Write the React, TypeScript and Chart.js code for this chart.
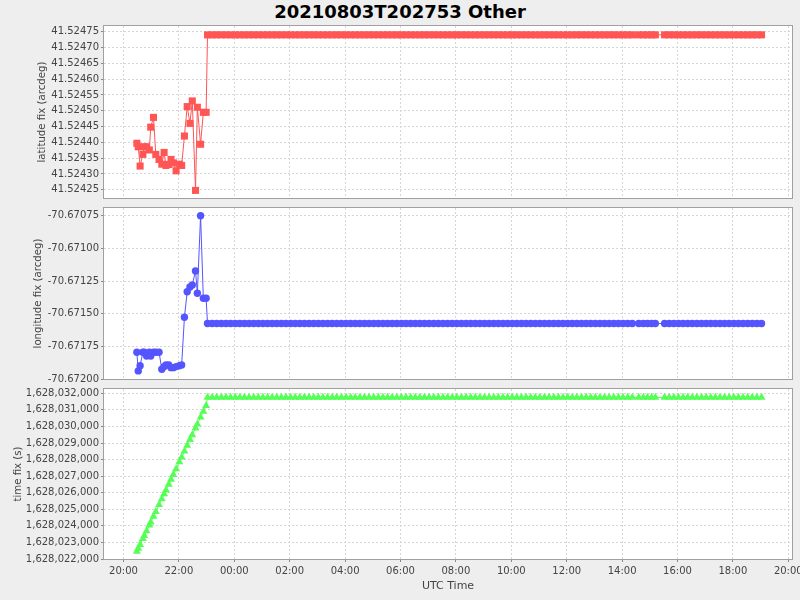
import { useEffect, useRef } from "react";
import { Chart, registerables } from "chart.js";

Chart.register(...registerables);

// ---- data (UTC record times) ----
const earlyTimes = [
  "20:29", "20:32", "20:36", "20:42", "20:45", "20:50", "20:56", "20:59", "21:05", "21:10",
  "21:17", "21:23", "21:28", "21:32", "21:38", "21:43", "21:48", "21:54", "22:01", "22:06",
  "22:12", "22:18", "22:24", "22:29", "22:36", "22:40", "22:47", "22:53", "22:59",
];
const lateTimes = [
  "23:02", "23:12", "23:22", "23:32", "23:42", "23:52",
  "00:02", "00:12", "00:22", "00:32", "00:42", "00:52",
  "01:02", "01:12", "01:22", "01:32", "01:42", "01:52",
  "02:02", "02:12", "02:22", "02:32", "02:42", "02:52",
  "03:02", "03:12", "03:22", "03:32", "03:42", "03:52",
  "04:02", "04:12", "04:22", "04:32", "04:42", "04:52",
  "05:02", "05:12", "05:22", "05:32", "05:42", "05:52",
  "06:02", "06:12", "06:22", "06:32", "06:42", "06:52",
  "07:02", "07:12", "07:22", "07:32", "07:42", "07:52",
  "08:02", "08:12", "08:22", "08:32", "08:42", "08:52",
  "09:02", "09:12", "09:22", "09:32", "09:42", "09:52",
  "10:02", "10:12", "10:22", "10:32", "10:42", "10:52",
  "11:02", "11:12", "11:22", "11:32", "11:42", "11:52",
  "12:02", "12:12", "12:22", "12:32", "12:42", "12:52",
  "13:02", "13:12", "13:22", "13:32", "13:42", "13:52",
  "14:02", "14:12", "14:22", "14:36", "14:46", "14:55",
  "15:04", "15:12", "15:32", "15:42", "15:52",
  "16:02", "16:12", "16:22", "16:32", "16:42", "16:52",
  "17:02", "17:12", "17:22", "17:32", "17:42", "17:52",
  "18:02", "18:12", "18:22", "18:32", "18:42", "18:52",
  "19:02",
];

const earlyLatitude = [
  41.524397, 41.524386, 41.524325, 41.524362, 41.524386, 41.524386, 41.524376, 41.524448, 41.524479, 41.524362,
  41.524346, 41.524331, 41.524368, 41.524327, 41.52433, 41.524346, 41.524335, 41.52431, 41.524331, 41.524327,
  41.52442, 41.524513, 41.52446, 41.524531, 41.524248, 41.524511, 41.524394, 41.524495, 41.524495,
];
const lateLatitude = [
  41.52474, 41.52474, 41.52474, 41.52474, 41.52474, 41.52474, 41.52474, 41.52474, 41.52474, 41.52474,
  41.52474, 41.52474, 41.52474, 41.52474, 41.52474, 41.52474, 41.52474, 41.52474, 41.52474, 41.52474,
  41.52474, 41.52474, 41.52474, 41.52474, 41.52474, 41.52474, 41.52474, 41.52474, 41.52474, 41.52474,
  41.52474, 41.52474, 41.52474, 41.52474, 41.52474, 41.52474, 41.52474, 41.52474, 41.52474, 41.52474,
  41.52474, 41.52474, 41.52474, 41.52474, 41.52474, 41.52474, 41.52474, 41.52474, 41.52474, 41.52474,
  41.52474, 41.52474, 41.52474, 41.52474, 41.52474, 41.52474, 41.52474, 41.52474, 41.52474, 41.52474,
  41.52474, 41.52474, 41.52474, 41.52474, 41.52474, 41.52474, 41.52474, 41.52474, 41.52474, 41.52474,
  41.52474, 41.52474, 41.52474, 41.52474, 41.52474, 41.52474, 41.52474, 41.52474, 41.52474, 41.52474,
  41.52474, 41.52474, 41.52474, 41.52474, 41.52474, 41.52474, 41.52474, 41.52474, 41.52474, 41.52474,
  41.52474, 41.52474, 41.52474, 41.52474, 41.52474, 41.52474, 41.52474, 41.52474, 41.52474, 41.52474,
  41.52474, 41.52474, 41.52474, 41.52474, 41.52474, 41.52474, 41.52474, 41.52474, 41.52474, 41.52474,
  41.52474, 41.52474, 41.52474, 41.52474, 41.52474, 41.52474, 41.52474, 41.52474, 41.52474, 41.52474,
];

const earlyLongitude = [
  -70.671795, -70.671938, -70.671898, -70.671795, -70.671795, -70.671824, -70.671795, -70.671824, -70.671795, -70.671795,
  -70.671795, -70.671925, -70.671905, -70.671892, -70.671892, -70.671913, -70.671913, -70.671905, -70.671898, -70.671892,
  -70.671527, -70.671332, -70.671296, -70.67128, -70.671173, -70.671344, -70.67075, -70.671382, -70.671382,
];
const lateLongitude = [
  -70.671575, -70.671575, -70.671575, -70.671575, -70.671575, -70.671575, -70.671575, -70.671575, -70.671575, -70.671575,
  -70.671575, -70.671575, -70.671575, -70.671575, -70.671575, -70.671575, -70.671575, -70.671575, -70.671575, -70.671575,
  -70.671575, -70.671575, -70.671575, -70.671575, -70.671575, -70.671575, -70.671575, -70.671575, -70.671575, -70.671575,
  -70.671575, -70.671575, -70.671575, -70.671575, -70.671575, -70.671575, -70.671575, -70.671575, -70.671575, -70.671575,
  -70.671575, -70.671575, -70.671575, -70.671575, -70.671575, -70.671575, -70.671575, -70.671575, -70.671575, -70.671575,
  -70.671575, -70.671575, -70.671575, -70.671575, -70.671575, -70.671575, -70.671575, -70.671575, -70.671575, -70.671575,
  -70.671575, -70.671575, -70.671575, -70.671575, -70.671575, -70.671575, -70.671575, -70.671575, -70.671575, -70.671575,
  -70.671575, -70.671575, -70.671575, -70.671575, -70.671575, -70.671575, -70.671575, -70.671575, -70.671575, -70.671575,
  -70.671575, -70.671575, -70.671575, -70.671575, -70.671575, -70.671575, -70.671575, -70.671575, -70.671575, -70.671575,
  -70.671575, -70.671575, -70.671575, -70.671575, -70.671575, -70.671575, -70.671575, -70.671575, -70.671575, -70.671575,
  -70.671575, -70.671575, -70.671575, -70.671575, -70.671575, -70.671575, -70.671575, -70.671575, -70.671575, -70.671575,
  -70.671575, -70.671575, -70.671575, -70.671575, -70.671575, -70.671575, -70.671575, -70.671575, -70.671575, -70.671575,
];

const earlyTimeFix = [
  1628022460, 1628022640, 1628022870, 1628023220, 1628023400, 1628023690, 1628024040, 1628024220, 1628024570, 1628024860,
  1628025270, 1628025620, 1628025920, 1628026150, 1628026500, 1628026800, 1628027090, 1628027440, 1628027850, 1628028140,
  1628028500, 1628028850, 1628029200, 1628029490, 1628029900, 1628030140, 1628030550, 1628030900, 1628031250,
];
const lateTimeFix = [
  1628031750, 1628031750, 1628031750, 1628031750, 1628031750, 1628031750, 1628031750, 1628031750, 1628031750, 1628031750,
  1628031750, 1628031750, 1628031750, 1628031750, 1628031750, 1628031750, 1628031750, 1628031750, 1628031750, 1628031750,
  1628031750, 1628031750, 1628031750, 1628031750, 1628031750, 1628031750, 1628031750, 1628031750, 1628031750, 1628031750,
  1628031750, 1628031750, 1628031750, 1628031750, 1628031750, 1628031750, 1628031750, 1628031750, 1628031750, 1628031750,
  1628031750, 1628031750, 1628031750, 1628031750, 1628031750, 1628031750, 1628031750, 1628031750, 1628031750, 1628031750,
  1628031750, 1628031750, 1628031750, 1628031750, 1628031750, 1628031750, 1628031750, 1628031750, 1628031750, 1628031750,
  1628031750, 1628031750, 1628031750, 1628031750, 1628031750, 1628031750, 1628031750, 1628031750, 1628031750, 1628031750,
  1628031750, 1628031750, 1628031750, 1628031750, 1628031750, 1628031750, 1628031750, 1628031750, 1628031750, 1628031750,
  1628031750, 1628031750, 1628031750, 1628031750, 1628031750, 1628031750, 1628031750, 1628031750, 1628031750, 1628031750,
  1628031750, 1628031750, 1628031750, 1628031750, 1628031750, 1628031750, 1628031750, 1628031750, 1628031750, 1628031750,
  1628031750, 1628031750, 1628031750, 1628031750, 1628031750, 1628031750, 1628031750, 1628031750, 1628031750, 1628031750,
  1628031750, 1628031750, 1628031750, 1628031750, 1628031750, 1628031750, 1628031750, 1628031750, 1628031750, 1628031750,
];

// ---- tick labels ----
const xTickLabels = ["20:00", "22:00", "00:00", "02:00", "04:00", "06:00", "08:00", "10:00", "12:00", "14:00", "16:00", "18:00", "20:00"];
const latTickLabels = ["41.52425", "41.52430", "41.52435", "41.52440", "41.52445", "41.52450", "41.52455", "41.52460", "41.52465", "41.52470", "41.52475"];
const lonTickLabels = ["-70.67200", "-70.67175", "-70.67150", "-70.67125", "-70.67100", "-70.67075"];
const timeTickLabels = [
  "1,628,022,000", "1,628,023,000", "1,628,024,000", "1,628,025,000", "1,628,026,000", "1,628,027,000",
  "1,628,028,000", "1,628,029,000", "1,628,030,000", "1,628,031,000", "1,628,032,000",
];

const TITLE = "20210803T202753 Other";
const FONT = "'DejaVu Sans', sans-serif";

// minutes after 2021-08-03 20:00 UTC
function toMinutes(t: string): number {
  const [h, m] = t.split(":").map(Number);
  let v = h * 60 + m - 1200;
  if (v < 0) v += 1440;
  return v;
}
const parseTick = (s: string) => Number(s.replace(/,/g, ""));

const framePlugin = {
  id: "frame",
  beforeDraw(chart: any) {
    const { ctx, chartArea: a } = chart;
    ctx.save();
    ctx.fillStyle = "#ffffff";
    ctx.fillRect(a.left, a.top, a.right - a.left, a.bottom - a.top);
    ctx.restore();
  },
  afterDraw(chart: any) {
    const { ctx, chartArea: a } = chart;
    ctx.save();
    ctx.strokeStyle = "#a0a0a0";
    ctx.lineWidth = 1;
    ctx.strokeRect(Math.round(a.left) - 0.5, Math.round(a.top) - 0.5, Math.round(a.right - a.left) + 1, Math.round(a.bottom - a.top) + 1);
    ctx.restore();
  },
};

interface Cfg {
  values: number[];
  color: string;
  pointStyle: string;
  radius: number;
  tickLabels: string[];
  yMin: number;
  yMax: number;
  title: string;
  titlePad: number;
  showX: boolean;
  padTop: number;
  padBottom: number;
}

function build(canvas: HTMLCanvasElement, cfg: Cfg) {
  const times = [...earlyTimes, ...lateTimes];
  const pts = times.map((t, i) => ({ x: toMinutes(t), y: cfg.values[i] }));
  return new Chart(canvas, {
    type: "scatter",
    data: {
      datasets: [
        {
          data: pts,
          showLine: true,
          borderColor: cfg.color,
          borderWidth: 1,
          backgroundColor: cfg.color,
          pointBackgroundColor: cfg.color,
          pointBorderWidth: 0,
          pointStyle: cfg.pointStyle as any,
          pointRadius: cfg.radius,
          pointHoverRadius: cfg.radius,
          tension: 0,
        },
      ],
    },
    options: {
      animation: false,
      responsive: false,
      devicePixelRatio: 1,
      events: [],
      layout: { padding: { left: 0, right: 8, top: cfg.padTop, bottom: cfg.padBottom } },
      plugins: { legend: { display: false }, tooltip: { enabled: false }, title: { display: false } },
      scales: {
        x: {
          type: "linear",
          min: -42.2,
          max: 1448,
          afterBuildTicks: (s: any) => {
            s.ticks = xTickLabels.map((_, i) => ({ value: i * 120 }));
          },
          afterFit: (s: any) => {
            s.height = cfg.showX ? 41 : 0;
            s.paddingLeft = 0;
            s.paddingRight = 0;
            s.paddingTop = 0;
            s.paddingBottom = 0;
          },
          ticks: {
            display: cfg.showX,
            autoSkip: false,
            maxRotation: 0,
            padding: 3,
            color: "#444444",
            font: { family: FONT, size: 10 },
            callback: (_v: any, i: number) => xTickLabels[i],
          },
          grid: {
            color: "#d6d6d6",
            lineWidth: 1,
            drawTicks: cfg.showX,
            tickLength: 3,
            tickColor: "#888888",
            tickBorderDash: [],
          },
          border: { display: false, dash: [2, 2] },
          title: {
            display: cfg.showX,
            text: "UTC Time",
            color: "#444444",
            font: { family: FONT, size: 11 },
            padding: { top: 0, bottom: 7 },
          },
        },
        y: {
          type: "linear",
          min: cfg.yMin,
          max: cfg.yMax,
          afterBuildTicks: (s: any) => {
            s.ticks = cfg.tickLabels.map((l) => ({ value: parseTick(l) }));
          },
          afterFit: (s: any) => {
            s.width = 104;
            s.paddingTop = 0;
            s.paddingBottom = 0;
            s.paddingLeft = 0;
            s.paddingRight = 0;
          },
          ticks: {
            autoSkip: false,
            padding: 2,
            color: "#444444",
            font: { family: FONT, size: 10 },
            callback: (_v: any, i: number) => cfg.tickLabels[i],
          },
          grid: {
            color: "#d6d6d6",
            lineWidth: 1,
            drawTicks: true,
            tickLength: 3,
            tickColor: "#888888",
            tickBorderDash: [],
          },
          border: { display: false, dash: [2, 2] },
          title: {
            display: true,
            text: cfg.title,
            color: "#444444",
            font: { family: FONT, size: 10.2 },
            padding: { top: cfg.titlePad, bottom: 0 },
          },
        },
      },
    } as any,
    plugins: [framePlugin],
  });
}

export default function App() {
  const c1 = useRef<HTMLCanvasElement>(null);
  const c2 = useRef<HTMLCanvasElement>(null);
  const c3 = useRef<HTMLCanvasElement>(null);

  useEffect(() => {
    const charts = [
      build(c1.current!, {
        values: [...earlyLatitude, ...lateLatitude],
        color: "#ff5555",
        pointStyle: "rect",
        radius: 5,
        tickLabels: latTickLabels,
        yMin: 41.524224,
        yMax: 41.524768,
        title: "latitude fix (arcdeg)",
        titlePad: 36,
        showX: false,
        padTop: 12,
        padBottom: 12,
      }),
      build(c2.current!, {
        values: [...earlyLongitude, ...lateLongitude],
        color: "#5555ff",
        pointStyle: "circle",
        radius: 3.7,
        tickLabels: lonTickLabels,
        yMin: -70.672,
        yMax: -70.670691,
        title: "longitude fix (arcdeg)",
        titlePad: 32,
        showX: false,
        padTop: 12,
        padBottom: 12,
      }),
      build(c3.current!, {
        values: [...earlyTimeFix, ...lateTimeFix],
        color: "#55ff55",
        pointStyle: "triangle",
        radius: 4.6,
        tickLabels: timeTickLabels,
        yMin: 1628022000,
        yMax: 1628032259,
        title: "time fix (s)",
        titlePad: 12,
        showX: true,
        padTop: 12,
        padBottom: 0,
      }),
    ];
    return () => charts.forEach((c) => c.destroy());
  }, []);

  return (
    <div style={{ position: "fixed", left: 0, top: 0, width: 800, height: 600, background: "#eeeeee", overflow: "hidden" }}>
      <div
        style={{
          position: "absolute",
          left: 0,
          top: 0,
          width: 800,
          textAlign: "center",
          fontFamily: FONT,
          fontWeight: "bold",
          fontSize: 18,
          lineHeight: "23px",
          color: "#000000",
        }}
      >
        {TITLE}
      </div>
      <canvas ref={c1} width={800} height={196} style={{ position: "absolute", left: 0, top: 14, width: 800, height: 196 }} />
      <canvas ref={c2} width={800} height={195} style={{ position: "absolute", left: 0, top: 196, width: 800, height: 195 }} />
      <canvas ref={c3} width={800} height={223} style={{ position: "absolute", left: 0, top: 377, width: 800, height: 223 }} />
    </div>
  );
}
